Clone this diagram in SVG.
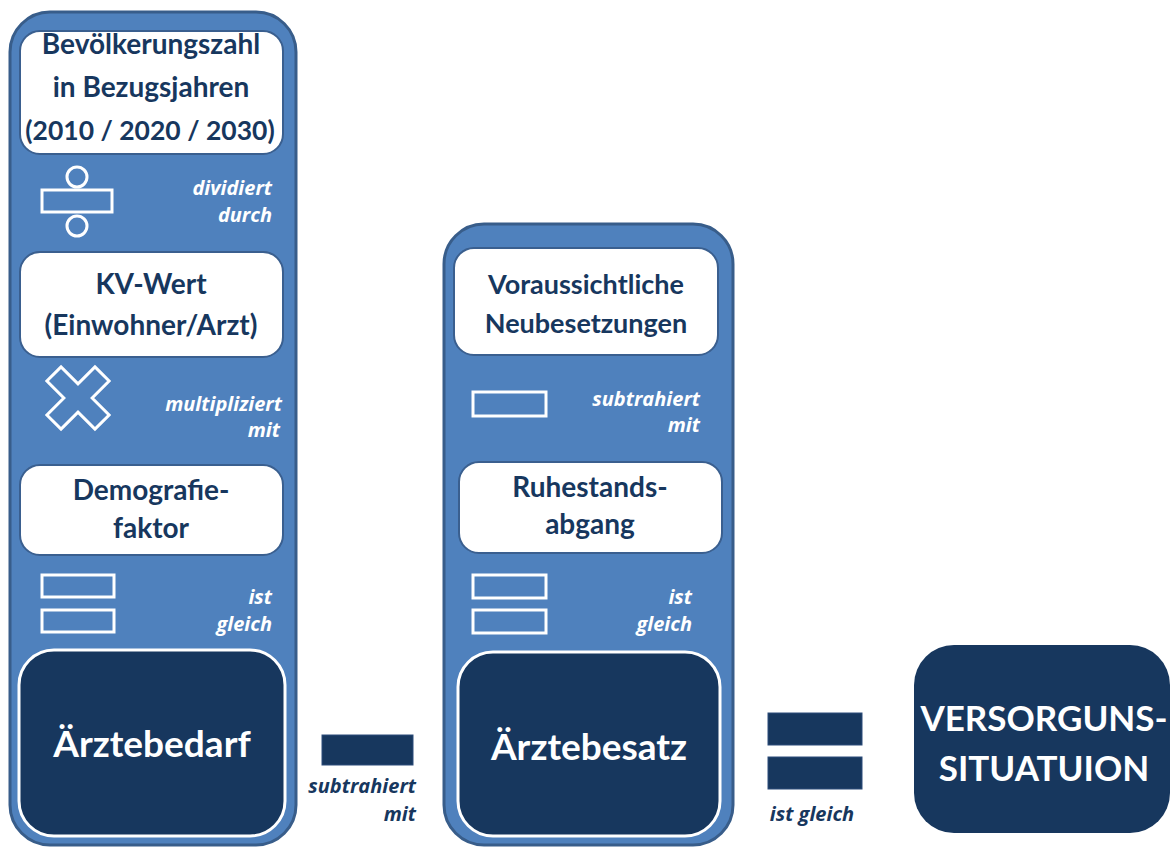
<svg xmlns="http://www.w3.org/2000/svg" width="1174" height="848" viewBox="0 0 1174 848">
<style>
.col{fill:#4f81bd;stroke:#385d8a;stroke-width:3}
.wbox{fill:#ffffff;stroke:#3a5f8f;stroke-width:2}
.dbox{fill:#17375e;stroke:#ffffff;stroke-width:3}
.icon{fill:none;stroke:#ffffff;stroke-width:3}
.bar{fill:#17375e;stroke:#2c4d7a;stroke-width:1}
.t{font-family:Lato,"Liberation Sans",sans-serif;font-weight:bold;fill:#17375e;text-anchor:middle;font-size:28px}
.big{font-family:Lato,"Liberation Sans",sans-serif;font-weight:bold;fill:#ffffff;text-anchor:middle;font-size:37px}
.op{font-family:"Open Sans","Liberation Sans",sans-serif;font-weight:bold;font-style:italic;fill:#ffffff;text-anchor:end;font-size:20px}
.opd{font-family:"Open Sans","Liberation Sans",sans-serif;font-weight:bold;font-style:italic;fill:#17375e;font-size:20px}
</style>
<rect width="1174" height="848" fill="#ffffff"/>
<g id="col-left">
<rect class="col" x="10" y="12" width="286" height="833" rx="40"/>
</g>
<g id="col-mid">
<rect class="col" x="444" y="224" width="289" height="621" rx="40"/>
</g>
<g id="n-bevoelkerung">
<rect class="wbox" x="20" y="31" width="263" height="123" rx="20"/>
<text class="t" x="151" y="54">Bevölkerungszahl</text>
<text class="t" x="151" y="97">in Bezugsjahren</text>
<text class="t" x="150" y="140" style="font-size:26.5px">(2010 / 2020 / 2030)</text>
</g>
<g id="op-divide">
<circle class="icon" cx="77" cy="177" r="10"/>
<rect class="icon" x="42" y="190" width="70" height="22"/>
<circle class="icon" cx="77" cy="226" r="10"/>
<text class="op" x="272" y="195">dividiert</text>
<text class="op" x="272" y="222">durch</text>
</g>
<g id="n-kv">
<rect class="wbox" x="20" y="252" width="263" height="105" rx="20"/>
<text class="t" x="151" y="294">KV-Wert</text>
<text class="t" x="151" y="335">(Einwohner/Arzt)</text>
</g>
<g id="op-multiply">
<polygon class="icon" transform="translate(78,398) rotate(45)" points="-10,-34 10,-34 10,-10 34,-10 34,10 10,10 10,34 -10,34 -10,10 -34,10 -34,-10 -10,-10"/>
<text class="op" x="282" y="411">multipliziert</text>
<text class="op" x="280" y="437">mit</text>
</g>
<g id="n-demografie">
<rect class="wbox" x="20" y="465" width="263" height="90" rx="20"/>
<text class="t" x="151" y="500">Demografie-</text>
<text class="t" x="151" y="538">faktor</text>
</g>
<g id="op-eq1">
<rect class="icon" x="42" y="575" width="72" height="22"/>
<rect class="icon" x="42" y="610" width="72" height="22"/>
<text class="op" x="272" y="604">ist</text>
<text class="op" x="272" y="631">gleich</text>
</g>
<g id="n-bedarf">
<rect class="dbox" x="19" y="650" width="266" height="186" rx="35"/>
<text class="big" x="152" y="757">Ärztebedarf</text>
</g>
<g id="n-neubesetzungen">
<rect class="wbox" x="454" y="248" width="264" height="107" rx="20"/>
<text class="t" x="586" y="294" style="font-size:27px">Voraussichtliche</text>
<text class="t" x="586" y="333" style="font-size:27px">Neubesetzungen</text>
</g>
<g id="op-minus-mid">
<rect class="icon" x="473" y="392" width="73" height="24"/>
<text class="op" x="700" y="406">subtrahiert</text>
<text class="op" x="700" y="432">mit</text>
</g>
<g id="n-ruhestand">
<rect class="wbox" x="459" y="462" width="263" height="91" rx="20"/>
<text class="t" x="590" y="497">Ruhestands-</text>
<text class="t" x="590" y="534">abgang</text>
</g>
<g id="op-eq2">
<rect class="icon" x="473" y="575" width="73" height="23"/>
<rect class="icon" x="473" y="610" width="73" height="23"/>
<text class="op" x="692" y="604">ist</text>
<text class="op" x="692" y="631">gleich</text>
</g>
<g id="n-besatz">
<rect class="dbox" x="458" y="652" width="262" height="184" rx="35"/>
<text class="big" x="589" y="760">Ärztebesatz</text>
</g>
<g id="n-versorgung">
<rect fill="#17375e" x="914" y="645" width="256" height="188" rx="40"/>
<text class="big" x="1044" y="731" style="font-size:35px">VERSORGUNS-</text>
<text class="big" x="1044" y="781" style="font-size:35px">SITUATUION</text>
</g>
<g id="connectors">
<rect class="bar" x="322" y="735" width="91" height="30"/>
<text class="opd" x="416" y="793" text-anchor="end">subtrahiert</text>
<text class="opd" x="416" y="821" text-anchor="end">mit</text>
<rect class="bar" x="768" y="713" width="94" height="32"/>
<rect class="bar" x="768" y="757" width="94" height="32"/>
<text class="opd" x="812" y="821" text-anchor="middle">ist  gleich</text>
</g>
</svg>
